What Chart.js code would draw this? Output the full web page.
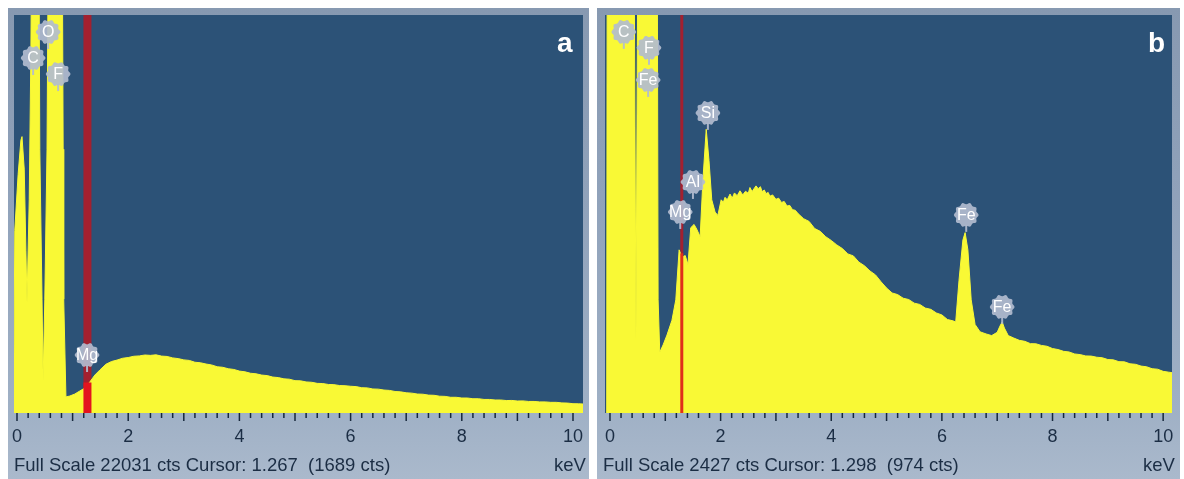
<!DOCTYPE html>
<html>
<head>
<meta charset="utf-8">
<script src="https://cdn.jsdelivr.net/npm/chart.js@4.4.1/dist/chart.umd.min.js"></script>
<style>
    body { margin: 0; background: #fff; width: 1184px; height: 479px; overflow: hidden; position: relative;
           font-family: "Liberation Sans", Arial, sans-serif; }
    .frame { position: absolute; top: 8px; height: 471px;
             background: linear-gradient(#8799b1 0%, #90a2ba 40%, #9fb0c5 85%, #aab9cc 100%); }
    #frameA { left: 8px; width: 581px; }
    #frameB { left: 597px; width: 583px; }
    canvas { position: absolute; top: 8px; }
    #chartA { left: 8px; }
    #chartB { left: 597px; }
    .info { position: absolute; top: 456px; font-size: 18.5px; line-height: 1; color: #1b2d44; white-space: pre; }
    .letter { position: absolute; top: 29px; font-size: 28px; font-weight: bold; line-height: 1; color: #fff; }
</style>
</head>
<body>
<div class="frame" id="frameA"></div>
<div class="frame" id="frameB"></div>
<canvas id="chartA" width="581" height="471"></canvas>
<canvas id="chartB" width="577" height="471"></canvas>
<div class="info" style="left:14px">Full Scale 22031 cts Cursor: 1.267  (1689 cts)</div>
<div class="info" style="left:554px">keV</div>
<div class="info" style="left:603px">Full Scale 2427 cts Cursor: 1.298  (974 cts)</div>
<div class="info" style="left:1143px">keV</div>
<div class="letter" style="left:557px">a</div>
<div class="letter" style="left:1148px">b</div>

<script>
// Spectrum a (keV, counts)
const energyA = [-0.06, -0.04, 0.02, 0.07, 0.09, 0.13, 0.16, 0.18, 0.22, 0.25, 0.27, 0.33, 0.39, 0.41, 0.45, 0.47,
    0.50, 0.54, 0.57, 0.70, 0.81, 0.83, 0.84, 0.88, 0.95, 1.04, 1.13, 1.22, 1.31, 1.40, 1.49,
    1.6, 1.7, 1.8, 1.9, 2.0, 2.1, 2.2, 2.3, 2.4, 2.5, 2.6, 2.7, 2.8, 2.9, 3.0, 3.1, 3.2, 3.3, 3.4, 3.5,
    3.6, 3.7, 3.8, 3.9, 4.0, 4.1, 4.2, 4.3, 4.4, 4.5, 4.6, 4.7, 4.8, 4.9, 5.0, 5.1, 5.2, 5.3, 5.4, 5.5,
    5.6, 5.7, 5.8, 5.9, 6.0, 6.1, 6.2, 6.3, 6.4, 6.5, 6.6, 6.7, 6.8, 6.9, 7.0, 7.1, 7.2, 7.3, 7.4, 7.5,
    7.6, 7.7, 7.8, 7.9, 8.0, 8.1, 8.2, 8.3, 8.4, 8.5, 8.6, 8.7, 8.8, 8.9, 9.0, 9.1, 9.2, 9.3, 9.4, 9.5,
    9.6, 9.7, 9.8, 9.9, 10.0, 10.1, 10.2];
const countsA = [0, 10100, 13200, 15100, 15300, 13500, 9000, 6100, 11800, 20100, 30000, 45000, 30000, 14600, 6300, 1800,
    6300, 14600, 30000, 50000, 30000, 14600, 6300, 890, 940, 1050, 1220, 1380, 1720, 2100, 2380,
    2700, 2850, 2930, 3030, 3070, 3140, 3160, 3210, 3190, 3220, 3150, 3130, 3050, 3010, 2940, 2910, 2810, 2780, 2710, 2660,
    2560, 2530, 2450, 2410, 2320, 2280, 2200, 2170, 2100, 2070, 1990, 1960, 1890, 1870, 1790, 1780, 1720, 1700, 1640, 1630,
    1580, 1570, 1520, 1510, 1480, 1460, 1400, 1390, 1330, 1320, 1270, 1250, 1190, 1170, 1120, 1100, 1050, 1040, 990, 980,
    930, 920, 870, 870, 830, 830, 790, 790, 750, 750, 720, 720, 690, 695, 665, 670, 640, 640, 615, 615,
    590, 590, 560, 550, 515, 510, 495];

// Spectrum b (keV, counts)
const energyB = [-0.06, -0.04, 0.10, 0.30, 0.42, 0.44, 0.47, 0.50, 0.52, 0.68, 0.84, 0.87, 0.90, 0.96, 1.03, 1.12,
    1.19, 1.25, 1.30, 1.36, 1.41, 1.46, 1.52, 1.57, 1.63, 1.68, 1.74, 1.79, 1.84, 1.90, 1.95,
    2.01, 2.05, 2.08, 2.12, 2.17, 2.21, 2.25, 2.30, 2.35, 2.40, 2.45, 2.50, 2.53, 2.57, 2.60, 2.64, 2.68, 2.72,
    2.75, 2.79, 2.82, 2.86, 2.89, 2.94, 3.0, 3.05, 3.1, 3.15, 3.2, 3.25, 3.3, 3.35, 3.4, 3.5, 3.6, 3.7, 3.8, 3.9,
    4.0, 4.1, 4.2, 4.3, 4.4, 4.5, 4.6, 4.7, 4.8, 4.9, 5.0, 5.1, 5.2, 5.3, 5.4, 5.5, 5.6, 5.7, 5.8, 5.9,
    6.0, 6.1, 6.2, 6.25, 6.31, 6.38, 6.42, 6.47, 6.53, 6.60, 6.69, 6.8, 6.9, 7.0, 7.05, 7.09, 7.13, 7.2,
    7.3, 7.4, 7.5, 7.6, 7.7, 7.8, 7.9, 8.0, 8.1, 8.2, 8.3, 8.4, 8.5, 8.6, 8.7, 8.8, 8.9, 9.0, 9.1, 9.2,
    9.3, 9.4, 9.5, 9.6, 9.7, 9.8, 9.9, 10.0, 10.1, 10.2];
const countsB = [0, 6000, 9000, 9000, 5000, 2600, 450, 2600, 5000, 9000, 5000, 690, 370, 415, 475, 565,
    690, 995, 950, 960, 905, 1130, 1150, 1120, 1075, 1420, 1730, 1540, 1300, 1225, 1205,
    1300, 1285, 1315, 1300, 1335, 1310, 1342, 1325, 1355, 1330, 1352, 1340, 1375, 1350, 1366, 1385, 1368, 1380,
    1350, 1360, 1338, 1345, 1322, 1330, 1303, 1310, 1284, 1290, 1262, 1266, 1240, 1236, 1216, 1185, 1168, 1125, 1108, 1075,
    1052, 1025, 1003, 970, 958, 920, 898, 866, 842, 800, 762, 732, 722, 700, 692, 670, 662, 640, 632, 610,
    598, 570, 562, 555, 810, 1055, 1100, 995, 690, 540, 495, 482, 472, 492, 530, 555, 518, 472,
    457, 443, 437, 423, 422, 412, 407, 393, 387, 376, 372, 360, 356, 348, 347, 340, 337, 326, 324, 313,
    312, 300, 297, 286, 282, 270, 267, 254, 249, 244];

// Cursor positions (keV) and the counts they read
const cursorA = [1.267, 1689];
const cursorB = [1.298, 974];

// Element markers
const namesA = ['C', 'O', 'F', 'Mg'];
const markEnergyA = [0.29, 0.56, 0.74, 1.26];
const markCountsA = [19650, 21090, 18760, 3210];
const namesB = ['C', 'F', 'Fe', 'Si', 'Al', 'Mg', 'Fe', 'Fe'];
const markEnergyB = [0.25, 0.705, 0.69, 1.77, 1.50, 1.27, 6.44, 7.09];
const markCountsB = [2324, 2227, 2031, 1830, 1409, 1226, 1208, 647];

const PLOT_BG = '#2c5277';
const YELLOW = '#f9f935';

function drawTag(ctx, px, py, name) {
    ctx.save();
    ctx.fillStyle = 'rgba(178,188,207,0.92)';
    ctx.strokeStyle = 'rgba(178,188,207,0.92)';
    ctx.lineWidth = 2;
    ctx.beginPath();
    ctx.moveTo(px, py + 10);
    ctx.lineTo(px, py + 17);
    ctx.stroke();
    ctx.beginPath();
    for (let k = 0; k <= 60; k++) {
        const t = k / 60 * Math.PI * 2;
        const r = 11.5 + 0.9 * Math.cos(t * 10);
        const xx = px + r * Math.cos(t), yy = py + r * Math.sin(t);
        if (k === 0) ctx.moveTo(xx, yy); else ctx.lineTo(xx, yy);
    }
    ctx.closePath();
    ctx.fill();
    ctx.fillStyle = '#ffffff';
    ctx.font = '16px "Liberation Sans", Arial, sans-serif';
    ctx.textAlign = 'center';
    ctx.textBaseline = 'middle';
    ctx.fillText(name, px, py + 1);
    ctx.restore();
}

const panelPlugin = {
    id: 'panel',
    beforeDraw(chart) {
        const { ctx, chartArea: a } = chart;
        ctx.save();
        ctx.fillStyle = PLOT_BG;
        ctx.fillRect(a.left, a.top, a.right - a.left, a.bottom - a.top);
        ctx.restore();
    },
    beforeDatasetsDraw(chart, args, opts) {
        // darker part of the cursor, seen above the spectrum
        const { ctx, chartArea: a, scales: { x } } = chart;
        const cx = x.getPixelForValue(opts.cursor[0]);
        ctx.save();
        ctx.fillStyle = '#a3202f';
        ctx.fillRect(cx - opts.cursorWidth / 2, a.top, opts.cursorWidth, a.bottom - a.top);
        ctx.restore();
    },
    afterDatasetsDraw(chart, args, opts) {
        const { ctx, chartArea: a, scales: { x, y } } = chart;
        ctx.save();
        // bright part of the cursor inside the spectrum
        const cx = x.getPixelForValue(opts.cursor[0]);
        const cy = y.getPixelForValue(opts.cursor[1]);
        ctx.fillStyle = opts.cursorColor;
        ctx.fillRect(cx - opts.cursorWidth / 2, cy, opts.cursorWidth, a.bottom - cy);
        // tick marks, longer on whole keV
        ctx.strokeStyle = '#17283c';
        ctx.lineWidth = 1.5;
        x.ticks.forEach(t => {
            const px = x.getPixelForValue(t.value);
            const major = Math.abs(t.value - Math.round(t.value)) < 1e-6;
            ctx.beginPath();
            ctx.moveTo(px, a.bottom);
            ctx.lineTo(px, a.bottom + (major ? 8 : 5));
            ctx.stroke();
        });
        ctx.restore();
        opts.names.forEach((n, i) => {
            drawTag(ctx, x.getPixelForValue(opts.energies[i]), y.getPixelForValue(opts.heights[i]), n);
        });
    }
};

function makeChart(id, energy, counts, xMin, xMax, yMax, pad, marker) {
    const ctx = document.getElementById(id).getContext('2d');
    return new Chart(ctx, {
        type: 'line',
        data: {
            datasets: [{
                data: energy.map((e, i) => ({ x: e, y: counts[i] })),
                fill: 'origin',
                backgroundColor: YELLOW,
                borderColor: YELLOW,
                borderWidth: 1,
                pointRadius: 0,
                tension: 0
            }]
        },
        options: {
            responsive: false,
            animation: false,
            layout: { padding: pad },
            plugins: {
                legend: { display: false },
                tooltip: { enabled: false },
                panel: marker
            },
            scales: {
                x: {
                    type: 'linear',
                    min: xMin,
                    max: xMax,
                    grid: { display: false, drawTicks: false },
                    border: { display: false },
                    ticks: {
                        stepSize: 0.2,
                        includeBounds: false,
                        autoSkip: false,
                        maxRotation: 0,
                        padding: 13,
                        color: '#1b2d44',
                        font: { size: 18, family: '"Liberation Sans", Arial, sans-serif' },
                        callback: v => (Math.abs(v / 2 - Math.round(v / 2)) < 1e-6 ? Math.round(v) : '')
                    },
                    afterFit: s => { s.height = 66; s.paddingLeft = 0; s.paddingRight = 0; }
                },
                y: { display: false, min: 0, max: yMax }
            }
        },
        plugins: [panelPlugin]
    });
}

makeChart('chartA', energyA, countsA, -0.054, 10.18, 22031,
    { left: 6, top: 7, right: 6, bottom: 0 },
    { cursor: cursorA, cursorWidth: 8, cursorColor: '#e3141f',
      names: namesA, energies: markEnergyA, heights: markCountsA });

makeChart('chartB', energyB, countsB, -0.09, 10.16, 2427,
    { left: 8, top: 7, right: 2, bottom: 0 },
    { cursor: cursorB, cursorWidth: 3, cursorColor: '#e0301a',
      names: namesB, energies: markEnergyB, heights: markCountsB });
</script>
</body>
</html>
